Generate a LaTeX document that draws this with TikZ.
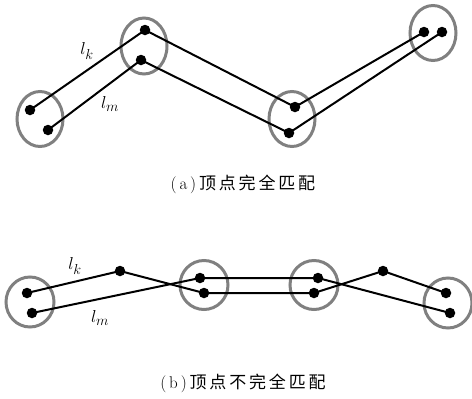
\documentclass[tikz,border=0pt]{standalone}
\usepackage{fontspec}
\newfontfamily\cjk{Noto Sans CJK SC}
\usetikzlibrary{shapes.geometric}
\tikzset{
  dot/.style={circle,fill=black,inner sep=0pt,minimum size=10.5pt},
  ring/.style={ellipse,draw=black!50,line width=3pt,inner sep=0pt},
  link/.style={line width=2pt,black},
  lab/.style={inner sep=0pt,font=\fontsize{19}{22}\selectfont},
  captext/.style={inner sep=0pt,font=\fontsize{17}{20}\selectfont}
}
\begin{document}
\begin{tikzpicture}[x=1pt,y=-1pt]
\useasboundingbox (0,0) rectangle (472,399);
% (a)
\node[ring,minimum width=46pt,minimum height=55pt] (ea1) at (40,119) {};
\node[ring,minimum width=46pt,minimum height=56pt] (ea2) at (144,46) {};
\node[ring,minimum width=46pt,minimum height=55pt] (ea3) at (292,119) {};
\node[ring,minimum width=46pt,minimum height=55pt] (ea4) at (433,33) {};
\node[dot] (ka1) at (30,110) {};
\node[dot] (ka2) at (145,30) {};
\node[dot] (ka3) at (295,107) {};
\node[dot] (ka4) at (424,32) {};
\node[dot] (ma1) at (48,130) {};
\node[dot] (ma2) at (141,60) {};
\node[dot] (ma3) at (289,133) {};
\node[dot] (ma4) at (442,32) {};
\draw[link] (ka1.center) -- (ka2.center) -- (ka3.center) -- (ka4.center);
\draw[link] (ma1.center) -- (ma2.center) -- (ma3.center) -- (ma4.center);
\node[lab] (lka) at (87,51) {$l_k$};
\node[lab] (lma) at (110,104) {$l_m$};
\node[captext] (capa) at (243,184) {(\,a\,)\,{\cjk 顶\,点\,完\,全\,匹\,配}};
% (b)
\node[ring,minimum width=48pt,minimum height=50pt] (eb1) at (30,302) {};
\node[ring,minimum width=48pt,minimum height=49pt] (eb2) at (204,285) {};
\node[ring,minimum width=48pt,minimum height=49pt] (eb3) at (314,285) {};
\node[ring,minimum width=48pt,minimum height=50pt] (eb4) at (448,303) {};
\node[dot] (kb1) at (27,293) {};
\node[dot] (kb2) at (120,271) {};
\node[dot] (kb3) at (204,293) {};
\node[dot] (kb4) at (314,293) {};
\node[dot] (kb5) at (383,271) {};
\node[dot] (kb6) at (446,293) {};
\node[dot] (mb1) at (32,313) {};
\node[dot] (mb2) at (200,278) {};
\node[dot] (mb3) at (318,278) {};
\node[dot] (mb4) at (450,313) {};
\draw[link] (kb1.center) -- (kb2.center) -- (kb3.center) -- (kb4.center) -- (kb5.center) -- (kb6.center);
\draw[link] (mb1.center) -- (mb2.center) -- (mb3.center) -- (mb4.center);
\node[lab] (lkb) at (75,266) {$l_k$};
\node[lab] (lmb) at (100,318) {$l_m$};
\node[captext] (capb) at (243,383) {(\,b\,)\,{\cjk 顶\,点\,不\,完\,全\,匹\,配}};
\end{tikzpicture}
\end{document}
